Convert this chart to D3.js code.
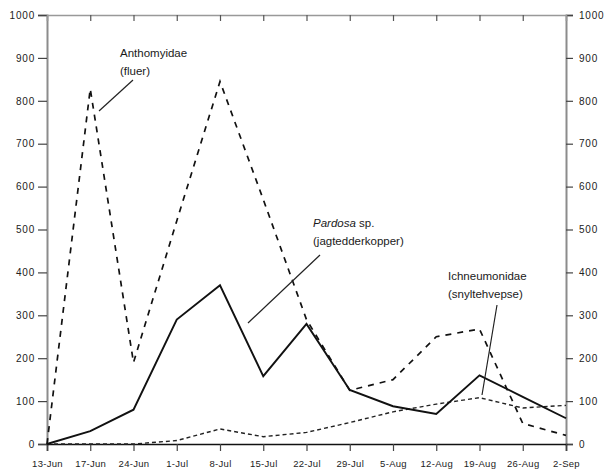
<!DOCTYPE html>
<html>
<head>
<meta charset="utf-8">
<script src="https://cdn.jsdelivr.net/npm/d3@7"></script>
<style>
  html, body { margin: 0; padding: 0; background: #fff; }
  svg { display: block; font-family: "Liberation Sans", Arial, sans-serif; }
</style>
</head>
<body>
<svg id="chart" width="607" height="471"></svg>
<script>
// Sampling dates (weekly catches)
const dates = ["13-Jun", "17-Jun", "24-Jun", "1-Jul", "8-Jul", "15-Jul", "22-Jul",
               "29-Jul", "5-Aug", "12-Aug", "19-Aug", "26-Aug", "2-Sep"];

// Catch counts per series
const pardosa       = [0, 30, 80, 290, 370, 158, 280, 126, 88, 70, 160, 110, 60];
const anthomyidae   = [0, 828, 190, 520, 845, 570, 290, 125, 150, 250, 268, 48, 20];
const ichneumonidae = [0, 0, 0, 8, 35, 17, 27, 50, 75, 93, 108, 84, 90];

const yTicks = [0, 100, 200, 300, 400, 500, 600, 700, 800, 900, 1000];

const svg = d3.select("#chart");
const x = d3.scalePoint().domain(dates).range([47, 566]);
const y = d3.scaleLinear().domain([0, 1000]).range([444, 15]);
const fmt = d3.format("d");

// Axes
const axisLeftG = svg.append("g").attr("transform", `translate(${x.range()[0]},0)`)
  .call(d3.axisLeft(y).tickValues(yTicks).tickFormat(fmt).tickSize(9).tickPadding(3));
const axisRightG = svg.append("g").attr("transform", `translate(${x.range()[1]},0)`)
  .call(d3.axisRight(y).tickValues(yTicks).tickFormat(fmt).tickSize(7).tickPadding(6));
const axisBottomG = svg.append("g").attr("transform", `translate(0,${y(0)})`)
  .call(d3.axisBottom(x).tickSize(7).tickPadding(9));
const axisTopG = svg.append("g").attr("transform", `translate(0,${y(1000)})`)
  .call(d3.axisBottom(x).tickValues(dates.slice(1, -1)).tickSize(6).tickFormat(""));

[axisLeftG, axisRightG].forEach(g => {
  g.select(".domain").attr("stroke", "#8c8c8c").attr("stroke-width", 2);
  g.selectAll(".tick line").attr("stroke", "#444").attr("stroke-width", 1.2);
  g.selectAll(".tick text").attr("font-size", 10).attr("letter-spacing", 0.8)
    .attr("fill", "#222").style("font-family", "'Liberation Sans', Arial, sans-serif");
});
axisBottomG.select(".domain").attr("stroke", "#111").attr("stroke-width", 1.6);
axisBottomG.selectAll(".tick line").attr("stroke", "#444").attr("stroke-width", 1.2);
axisBottomG.selectAll(".tick text").attr("font-size", 9.5).attr("letter-spacing", 0.3)
  .attr("fill", "#222").style("font-family", "'Liberation Sans', Arial, sans-serif");
axisTopG.select(".domain").attr("stroke", "#999").attr("stroke-width", 1.6);
axisTopG.selectAll(".tick line").attr("stroke", "#555").attr("stroke-width", 1.2);

// Series lines
const line = d3.line().x((d, i) => x(dates[i])).y(d => y(d));

svg.append("path").datum(ichneumonidae)
  .attr("d", line).attr("fill", "none")
  .attr("stroke", "#222").attr("stroke-width", 1.4)
  .attr("stroke-dasharray", "4,3");

svg.append("path").datum(anthomyidae)
  .attr("d", line).attr("fill", "none")
  .attr("stroke", "#111").attr("stroke-width", 1.7)
  .attr("stroke-dasharray", "6,6");

svg.append("path").datum(pardosa)
  .attr("d", line).attr("fill", "none")
  .attr("stroke", "#111").attr("stroke-width", 1.9)
  .attr("stroke-linejoin", "miter");

// Labels with leader lines
const labelFont = "'Liberation Sans', Arial, sans-serif";
function label(lines, tx, ty, from, to) {
  const t = svg.append("text").attr("x", tx).attr("y", ty)
    .attr("font-size", 11.5).attr("fill", "#1a1a1a").style("font-family", labelFont);
  lines.forEach((ln, i) => {
    const ts = t.append("tspan").attr("x", tx).attr("dy", i === 0 ? 0 : 17.5);
    ln.forEach(part => {
      ts.append("tspan").text(part.t).attr("font-style", part.i ? "italic" : "normal");
    });
  });
  svg.append("line").attr("x1", from[0]).attr("y1", from[1])
    .attr("x2", to[0]).attr("y2", to[1])
    .attr("stroke", "#222").attr("stroke-width", 1.2);
}

label([[{t: "Anthomyidae"}], [{t: "(fluer)"}]], 120, 57, [133, 80], [99, 111]);
label([[{t: "Pardosa", i: true}, {t: " sp."}], [{t: "(jagtedderkopper)"}]], 313, 227, [320, 255], [248, 323]);
label([[{t: "Ichneumonidae"}], [{t: "(snyltehvepse)"}]], 448, 280, [497, 305], [482, 395]);
</script>
</body>
</html>
